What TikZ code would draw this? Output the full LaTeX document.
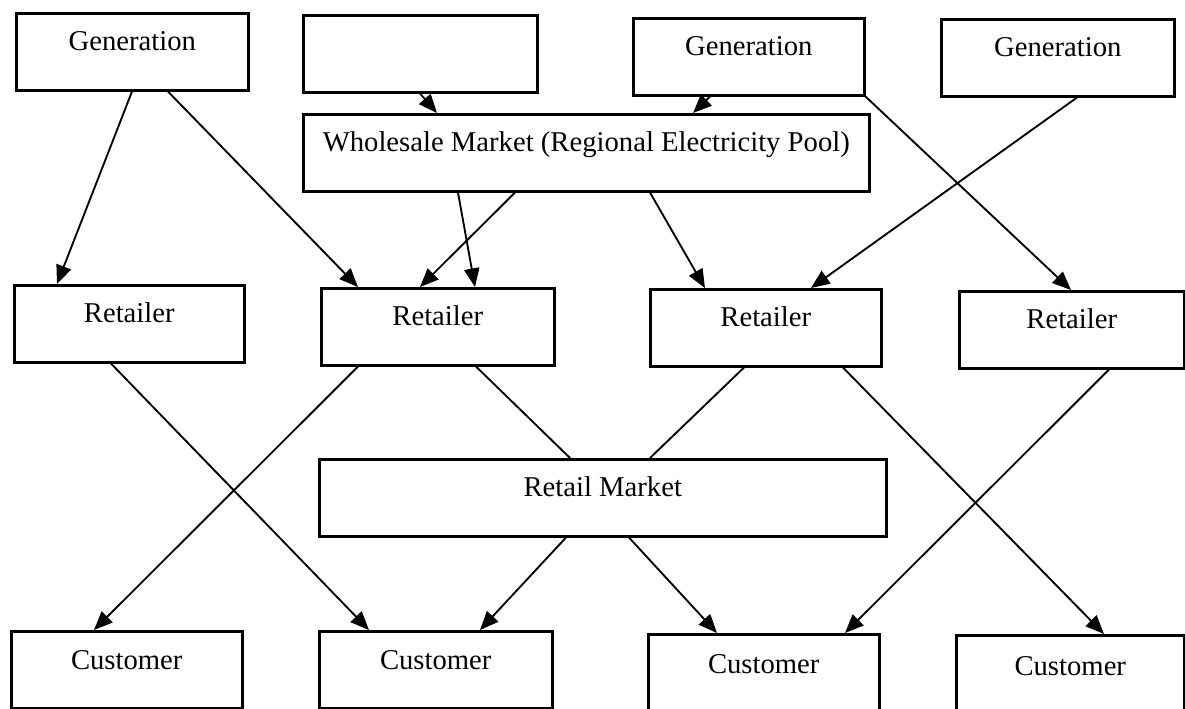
\documentclass[tikz,border=0pt]{standalone}
\usepackage{fontspec}
\setmainfont{Liberation Serif}
\usetikzlibrary{arrows.meta,calc}
\begin{document}
\begin{tikzpicture}[x=0.75pt,y=-0.75pt,
  box/.style={draw, line width=1.9pt, inner sep=0pt, anchor=north west,
    minimum height=57.75pt, text height=27.75pt, text depth=30pt,
    font=\fontsize{21.5}{24}\selectfont},
  conn/.style={line width=1.4pt},
  arr/.style={conn, -{Triangle[length=14pt,width=11.5pt]}}]
\useasboundingbox (0,0) rectangle (1185,708);
% top row
\node[box, minimum width=174pt] (g1) at (15,12) {Generation};
\node[box, minimum width=175.5pt] (em) at (302,14) {};
\node[box, minimum width=173.25pt] (g2) at (632,17) {Generation};
\node[box, minimum width=174.75pt] (g3) at (940,18) {Generation};
\node[box, minimum width=424.5pt, text depth=28.5pt, text height=26.25pt] (wm) at (302,113) {Wholesale Market (Regional Electricity Pool)};
% retailers
\node[box, minimum width=172.5pt] (r1) at (13,284) {Retailer};
\node[box, minimum width=174.75pt] (r2) at (320,287) {Retailer};
\node[box, minimum width=173.25pt] (r3) at (649,288) {Retailer};
\node[box, minimum width=168.75pt] (r4) at (958,290) {Retailer};
% retail market
\node[box, minimum width=425.25pt] (rm) at (318,458) {Retail Market};
% customers
\node[box, minimum width=173.25pt, text depth=28.5pt] (c1) at (10,630) {Customer};
\node[box, minimum width=174.75pt, text depth=28.5pt] (c2) at (318,630) {Customer};
\node[box, minimum width=173.25pt, text depth=26.25pt] (c3) at (647,633) {Customer};
\node[box, minimum width=171pt, text depth=25.5pt] (c4) at (955,634) {Customer};
% connectors, upper part
\draw[arr] ($(g1.south west)+(117,0)$) -- ($(r1.north west)+(44,0)$);
\draw[arr] ($(g1.south west)+(153,0)$) -- ($(r2.north west)+(38,0)$);
\draw[arr] ($(em.south west)+(118,0)$) -- ($(wm.north west)+(135,0)$);
\draw[arr] ($(g2.south west)+(78,0)$) -- ($(wm.north west)+(391,0)$);
\draw[arr] (g2.south east) -- ($(r4.north west)+(113,0)$);
\draw[arr] ($(g3.south west)+(137,0)$) -- ($(r3.north west)+(162,0)$);
\draw[arr] ($(wm.south west)+(156,0)$) -- ($(r2.north west)+(155,0)$);
\draw[arr] ($(wm.south west)+(213,0)$) -- ($(r2.north west)+(100,0)$);
\draw[arr] ($(wm.south west)+(348,0)$) -- ($(r3.north west)+(56,0)$);
% connectors, lower part
\draw[arr] ($(r1.south west)+(98,0)$) -- ($(c2.north west)+(51,0)$);
\draw[arr] ($(r2.south west)+(38,0)$) -- ($(c1.north west)+(84,0)$);
\draw[conn] ($(r2.south west)+(156,0)$) -- ($(rm.north west)+(252,0)$);
\draw[arr] ($(rm.south west)+(248,0)$) -- ($(c2.north west)+(162,0)$);
\draw[conn] ($(r3.south west)+(95,0)$) -- ($(rm.north west)+(332,0)$);
\draw[arr] ($(r3.south west)+(194,0)$) -- ($(c4.north west)+(149,0)$);
\draw[arr] ($(rm.south west)+(311,0)$) -- ($(c3.north west)+(70,0)$);
\draw[arr] ($(r4.south west)+(151,0)$) -- ($(c3.north west)+(198,0)$);
\end{tikzpicture}
\end{document}
